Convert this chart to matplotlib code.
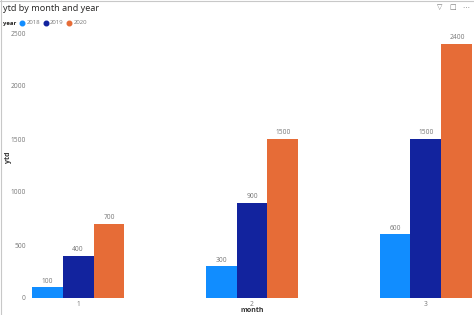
import numpy as np
import matplotlib.pyplot as plt
from matplotlib.lines import Line2D

plt.rcParams['font.family'] = ['Open Sans', 'DejaVu Sans']

months = ['1', '2', '3']
years = ['2018', '2019', '2020']
ytd_2018 = [100, 300, 600]
ytd_2019 = [400, 900, 1500]
ytd_2020 = [700, 1500, 2400]
colors = ['#118DFF', '#12239E', '#E66C37']

series = [ytd_2018, ytd_2019, ytd_2020]

fig = plt.figure(figsize=(4.74, 3.15), dpi=100)
ax = fig.add_axes([30/474, 17/315, 444/474, 282/315])

x = np.arange(len(months))
w = 0.178  # bar width in category units
for i, (vals, c) in enumerate(zip(series, colors)):
    pos = x + (i - 1) * w
    bars = ax.bar(pos, vals, width=w, color=c, linewidth=0)
    for b, v in zip(bars, vals):
        ax.text(b.get_x() + b.get_width()/2, v + 25, str(v), ha='center', va='bottom',
                fontsize=4.8, color='#777777')

ax.set_xlim(-0.276, 2.276)
ax.set_ylim(0, 2500 * 282/265)
ax.set_yticks([0, 500, 1000, 1500, 2000, 2500])
ax.set_xticks(x)
ax.set_xticklabels(months)
ax.tick_params(axis='both', length=0, labelsize=4.8, labelcolor='#777777', pad=3)
ax.tick_params(axis='x', pad=2)
for s in ax.spines.values():
    s.set_visible(False)

ax.set_ylabel('ytd', fontsize=5, fontweight='bold', color='#333333', va='center')
ax.yaxis.set_label_coords(-22/444, 0.5)
ax.set_xlabel('month', fontsize=5, fontweight='bold', color='#333333', va='center')
ax.xaxis.set_label_coords(0.5, -13/282)

# title and legend
fig.text(3/474, 1 - 8.5/315, 'ytd by month and year', fontsize=6.6, color='#252423',
         va='center', ha='left')
fig.text(3/474, 1 - 23/315, 'year', fontsize=4.3, fontweight='bold', color='#252423',
         va='center', ha='left')
lx = [22, 45.5, 69]
for px, yr, c in zip(lx, years, colors):
    fig.add_artist(Line2D([px/474], [1 - 23/315], marker='o', markersize=3.3,
                          color=c, linestyle='none', transform=fig.transFigure))
    fig.text((px + 4.5)/474, 1 - 23/315, yr, fontsize=4.3, color='#777777',
             va='center', ha='left')

# header icons
fig.text(440/474, 1 - 8/315, '\u25bd', fontsize=5, color='#777777', va='center', ha='center')
fig.text(453/474, 1 - 8/315, '\u25a1', fontsize=5, color='#777777', va='center', ha='center')
fig.text(466/474, 1 - 8/315, '\u22ef', fontsize=5, color='#777777', va='center', ha='center')

# frame lines
fig.add_artist(Line2D([1/474, 1/474], [0, 1], color='#c8c8c8', linewidth=0.8,
                      transform=fig.transFigure))
fig.add_artist(Line2D([0, 1], [1 - 1/315, 1 - 1/315], color='#c8c8c8', linewidth=0.8,
                      transform=fig.transFigure))

fig.savefig('out.png', dpi=100)
